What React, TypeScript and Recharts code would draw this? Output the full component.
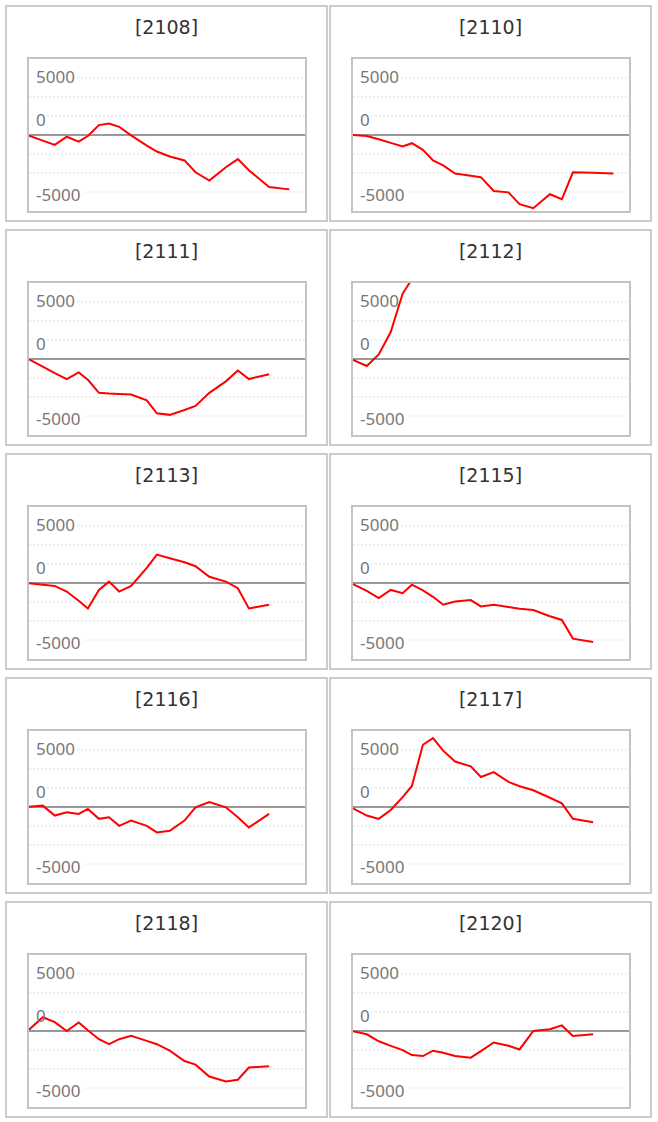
import { CartesianGrid, Line, LineChart, ReferenceLine, XAxis, YAxis } from "recharts";

// shared time positions (same sampling in every panel)
const times = [
  0, 1.5, 2.8, 4.1, 5.4, 6.4, 7.6, 8.7, 9.8, 11.1, 12.8, 13.9, 15.3, 16.9, 18.1,
  19.6, 21.4, 22.7, 23.9, 26.1, 28.3,
];

const codes = ["2108", "2110", "2111", "2112", "2113", "2115", "2116", "2117", "2118", "2120"];

const s2108 = [-50, -490, -870, -150, -580, -90, 870, 1010, 720, -30, -930, -1450, -1880, -2230, -3270, -3990, -2830, -2110, -3090, -4570, -4770];
const s2110 = [0, -90, -380, -690, -1010, -720, -1300, -2230, -2660, -3380, -3580, -3700, -4910, -5030, -6070, -6420, -5200, -5640, -3270, -3320, -3380];
const s2111 = [-30, -660, -1240, -1760, -1180, -1820, -2970, -3030, -3060, -3110, -3630, -4760, -4900, -4470, -4120, -2970, -1960, -1010, -1760, -1330];
const s2112 = [-90, -610, 400, 2360, 5740, 7000];
const s2113 = [-30, -150, -260, -750, -1560, -2230, -610, 120, -750, -260, 1330, 2490, 2170, 1820, 1470, 550, 120, -460, -2230, -1910];
const s2115 = [-100, -690, -1330, -610, -900, -150, -640, -1210, -1910, -1620, -1500, -2050, -1910, -2110, -2250, -2370, -2920, -3240, -4880, -5170];
const s2116 = [30, 120, -750, -460, -610, -170, -1040, -900, -1650, -1190, -1650, -2230, -2080, -1190, -30, 430, -30, -900, -1790, -610];
const s2117 = [-120, -750, -1040, -260, 870, 1850, 5460, 6040, 4940, 3990, 3560, 2630, 3060, 2200, 1820, 1470, 810, 320, -1040, -1330];
const s2118 = [120, 1210, 780, 0, 750, 60, -720, -1160, -720, -430, -870, -1160, -1730, -2630, -2950, -3990, -4420, -4280, -3210, -3090];
const s2120 = [-30, -290, -900, -1300, -1680, -2110, -2200, -1730, -1910, -2200, -2340, -1760, -1010, -1300, -1620, 0, 150, 490, -430, -290];

const seriesList = [s2108, s2110, s2111, s2112, s2113, s2115, s2116, s2117, s2118, s2120];

const yTicks = [5000, 0, -5000];
const gridValues = [5000, 10000 / 3, 5000 / 3, -5000 / 3, -10000 / 3, -5000];
// where each dotted line begins, so it stops short of the tick labels
const gridStart = [48, 0, 18, 0, 0, 56];
const yLimit = 20000 / 3;

// labels sit a little off their lines, like the original
const labelShift = { 5000: -2, 0: -16, "-5000": 2 };

const renderTick = (props) => {
  const { y, payload } = props;
  return (
    <text
      x={7}
      y={y + (labelShift[payload.value] ?? 0)}
      dominantBaseline="central"
      textAnchor="start"
      fontFamily="'Noto Sans', sans-serif"
      fontSize={17}
      fill="#777777"
    >
      {payload.value}
    </text>
  );
};

const renderGridLine = (props) => {
  const { x1, y1, x2, y2, index } = props;
  return (
    <line
      key={`g-${index}`}
      x1={x1 + (gridStart[index] ?? 0)}
      y1={y1}
      x2={x2}
      y2={y2}
      stroke="#dddddd"
      strokeWidth={1}
      strokeDasharray="2 2"
    />
  );
};

const Panel = ({ code, values, left, top }) => {
  const data = values.map((v, i) => ({ t: times[i], v }));
  return (
    <div
      style={{
        position: "absolute",
        left,
        top,
        width: 323,
        height: 217,
        border: "2px solid #cccccc",
        boxSizing: "border-box",
        background: "#fff",
      }}
    >
      <div
        style={{
          position: "absolute",
          left: 0,
          right: 0,
          top: 8,
          textAlign: "center",
          fontFamily: "'DejaVu Sans', sans-serif",
          fontSize: 19,
          color: "#333",
          lineHeight: "24px",
        }}
      >
        [{code}]
      </div>
      <div
        style={{
          position: "absolute",
          left: 20,
          top: 50,
          width: 280,
          height: 156,
          border: "2px solid #c4c4c4",
          boxSizing: "border-box",
        }}
      >
        <LineChart width={276} height={152} data={data} margin={{ top: 0, right: 0, bottom: 0, left: 0 }}>
          <CartesianGrid vertical={false} horizontalValues={gridValues} horizontal={renderGridLine} />
          <XAxis type="number" dataKey="t" domain={[0, 30]} hide />
          <YAxis
            type="number"
            domain={[-yLimit, yLimit]}
            allowDataOverflow
            ticks={yTicks}
            interval={0}
            mirror
            width={1}
            axisLine={false}
            tickLine={false}
            tick={renderTick}
          />
          <ReferenceLine y={0} stroke="#999999" strokeWidth={2} />
          <Line
            type="linear"
            dataKey="v"
            stroke="#ff0000"
            strokeWidth={2}
            dot={false}
            isAnimationActive={false}
          />
        </LineChart>
      </div>
    </div>
  );
};

export default function App() {
  return (
    <div style={{ position: "absolute", left: 0, top: 0, width: 658, height: 1122, background: "#fff" }}>
      {codes.map((code, i) => (
        <Panel
          key={code}
          code={code}
          values={seriesList[i]}
          left={5 + (i % 2) * 324}
          top={5 + Math.floor(i / 2) * 224}
        />
      ))}
    </div>
  );
}
